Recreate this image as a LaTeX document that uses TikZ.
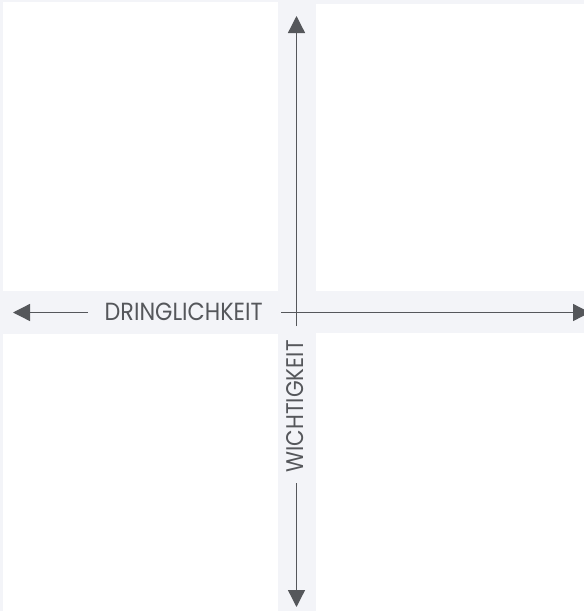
\documentclass[tikz,border=0pt]{standalone}
\usepackage{fontspec}
\usepackage{graphicx}
\newfontfamily\lblfont{Poppins}
\usetikzlibrary{arrows.meta}
\definecolor{bandgray}{HTML}{F3F4F8}
\definecolor{axisgray}{HTML}{55575B}
\tikzset{
  quad/.style={fill=white, draw=none},
  axis/.style={draw=axisgray, line width=1.3pt, -{Triangle[length=17pt,width=17pt]}},
  plainaxis/.style={draw=axisgray, line width=1.3pt},
  lbl/.style={inner sep=0pt, text=axisgray}
}
\begin{document}
\begin{tikzpicture}[x=1pt,y=-1pt]
  \useasboundingbox (0,0) rectangle (584,611);
  \fill[bandgray] (0,0) rectangle (584,611);
  % quadrants
  \fill[white] (3,2) rectangle (278,291);
  \fill[white] (316,4) rectangle (584,291);
  \fill[white] (3,334) rectangle (278,611);
  \fill[white] (316,333) rectangle (584,611);
  % labels
  \node[lbl, anchor=base west] (dr) at (104.5,320) {\resizebox{158pt}{17.5pt}{\lblfont DRINGLICHKEIT}};
  \node[lbl, rotate=90, anchor=base west] (wi) at (303,472.5) {\resizebox{132pt}{17pt}{\lblfont WICHTIGKEIT}};
  % coordinates
  \coordinate (lstart) at (88,312.5);
  \coordinate (ltip) at (13,312.5);
  \coordinate (rstart) at (281,312.5);
  \coordinate (rtip) at (590,312.5);
  \coordinate (ustart) at (296.5,326);
  \coordinate (utip) at (296.5,16);
  \coordinate (dstart) at (296.5,483);
  \coordinate (dtip) at (296.5,607);
  \begin{scope}
    \clip (0,0) rectangle (584,611);
    \draw[axis] (lstart) -- (ltip);
    \draw[axis] (rstart) -- (rtip);
    \draw[axis] (ustart) -- (utip);
    \draw[axis] (dstart) -- (dtip);
  \end{scope}
\end{tikzpicture}
\end{document}
